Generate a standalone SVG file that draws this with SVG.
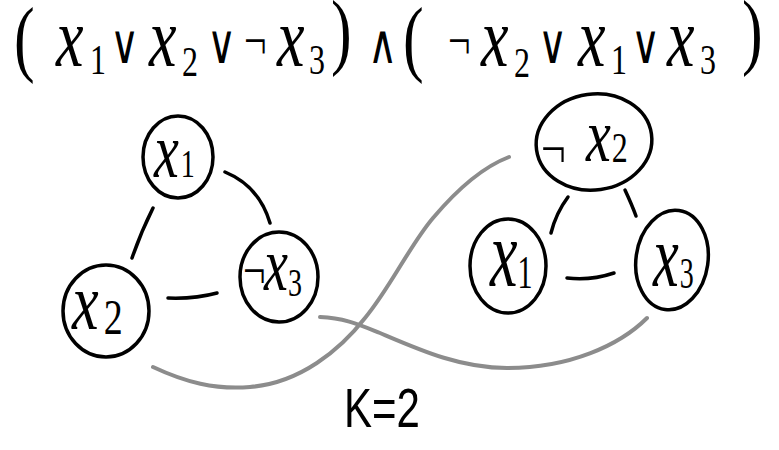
<svg xmlns="http://www.w3.org/2000/svg" width="779" height="450" viewBox="0 0 779 450">
<style>
.bg{fill:#ffffff}
.node{fill:none;stroke:#000;stroke-width:3.5}
.edge{fill:none;stroke:#000;stroke-width:3.5;stroke-linecap:round}
.cut{fill:none;stroke:#8c8c8c;stroke-width:4;stroke-linecap:round}
.v{font-family:"Liberation Serif","DejaVu Serif",serif;font-style:italic;fill:#000}
.o{font-family:"Liberation Serif","DejaVu Serif",serif;font-style:normal;fill:#000}
.s{font-family:"Liberation Sans","DejaVu Sans",sans-serif;font-style:normal;fill:#000}
</style>
<rect class="bg" x="0" y="0" width="779" height="450"/>

<g id="formula" transform="scale(1,1.35)">
<text class="v" font-size="62">
<tspan class="o" x="14" y="49">(</tspan>
<tspan x="56" y="49">x</tspan><tspan class="o" font-size="32" x="90" y="55">1</tspan>
<tspan class="o" font-size="40" x="110" y="47">∨</tspan>
<tspan x="149" y="49">x</tspan><tspan class="o" font-size="32" x="182" y="56">2</tspan>
<tspan class="o" font-size="40" x="207" y="47">∨</tspan>
<tspan class="o" font-size="40" x="244" y="44">¬</tspan>
<tspan x="277" y="49">x</tspan><tspan class="o" font-size="32" x="309" y="55">3</tspan>
<tspan class="o" x="331" y="44">)</tspan>
<tspan class="o" font-size="40" x="368" y="47">∧</tspan>
<tspan class="o" x="403" y="49">(</tspan>
<tspan class="o" font-size="40" x="448" y="44">¬</tspan>
<tspan x="481" y="49">x</tspan><tspan class="o" font-size="32" x="514" y="57">2</tspan>
<tspan class="o" font-size="40" x="538" y="47">∨</tspan>
<tspan x="578" y="49">x</tspan><tspan class="o" font-size="32" x="611" y="55">1</tspan>
<tspan class="o" font-size="40" x="631" y="47">∨</tspan>
<tspan x="667" y="49">x</tspan><tspan class="o" font-size="32" x="700" y="55">3</tspan>
<tspan class="o" x="742" y="44">)</tspan>
</text>
</g>

<g id="connectors">
<path class="edge" d="M153,208 Q141,232 132,258"/>
<path class="edge" d="M225,172 Q259,186 270,223"/>
<path class="edge" d="M168,298 Q195,299 217,293"/>
<path class="edge" d="M568,197 Q556,213 551,233"/>
<path class="edge" d="M625,190 Q632,205 636,216"/>
<path class="edge" d="M567,278 Q590,281 614,273"/>
<path class="cut" d="M153,367 C185,382 215,390 250,387 C300,383 340,350 365,318 C390,288 410,245 433,218 C455,192 480,168 509,157"/>
<path class="cut" d="M320,317 C345,318 360,325 380,333 C420,350 460,368 507,368 C570,368 620,345 647,318"/>
</g>

<g id="L_x1">
<ellipse class="node" cx="178" cy="157" rx="35" ry="41"/>
<text class="v" font-size="56" transform="translate(154,177) scale(1,1.4)">x<tspan class="o" font-size="28" dx="2">1</tspan></text>
</g>
<g id="L_x2">
<ellipse class="node" cx="106" cy="311" rx="43" ry="46"/>
<text class="v" font-size="60" transform="translate(72,329) scale(1,1.35)">x<tspan class="o" font-size="38" dx="5" dy="4">2</tspan></text>
</g>
<g id="L_nx3">
<ellipse class="node" cx="279" cy="277" rx="39" ry="45"/>
<text class="o" font-size="40" transform="translate(243,288) scale(1,1.3)">¬</text>
<text class="v" font-size="54" transform="translate(264,290) scale(1,1.4)">x<tspan class="o" font-size="28" dx="0" dy="4">3</tspan></text>
</g>

<g id="R_nx2">
<ellipse class="node" cx="594" cy="142" rx="58" ry="48" transform="rotate(-8 594 142)"/>
<text class="o" font-size="44" transform="translate(541,168) scale(1,1.3)">¬</text>
<text class="v" font-size="56" transform="translate(586,161) scale(1,1.35)">x<tspan class="o" font-size="32" dx="1" dy="1">2</tspan></text>
</g>
<g id="R_x1">
<ellipse class="node" cx="508" cy="266" rx="38" ry="47"/>
<text class="v" font-size="62" transform="translate(490,286) scale(1,1.55)">x<tspan class="o" font-size="30" dx="0" dy="1">1</tspan></text>
</g>
<g id="R_x3">
<ellipse class="node" cx="672" cy="260" rx="36" ry="50" transform="rotate(8 672 260)"/>
<text class="v" font-size="58" transform="translate(653,286) scale(1,1.55)">x<tspan class="o" font-size="28" dx="1" dy="1">3</tspan></text>
</g>

<text class="s" font-size="40" transform="translate(344,427) scale(1.05,1.4)">K=2</text>
</svg>
